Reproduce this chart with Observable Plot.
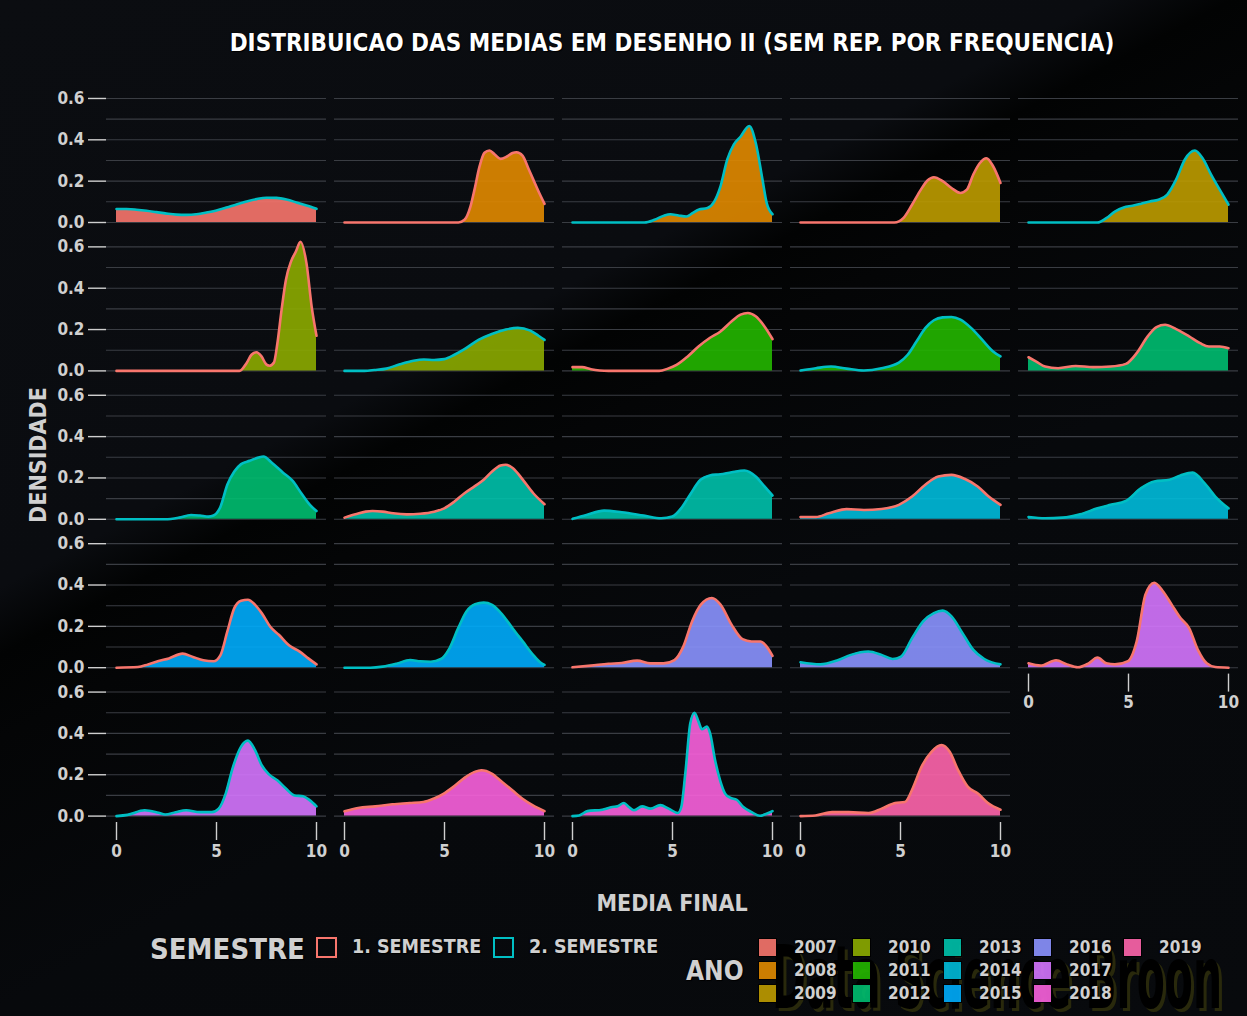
<!DOCTYPE html>
<html><head><meta charset="utf-8">
<script src="https://cdn.jsdelivr.net/npm/d3@7"></script>
<script src="https://cdn.jsdelivr.net/npm/@observablehq/plot@0.6"></script>
<style>
html,body{margin:0;padding:0;background:#07090c;}
#page{position:relative;width:1247px;height:1016px;overflow:hidden;
  background:linear-gradient(152deg,#0b0d11 0%,#0a0c10 35%,#020303 39%,#040506 44%,#07090c 60%,#080a0d 100%);
  font-family:"DejaVu Sans Condensed","DejaVu Sans",sans-serif;font-weight:bold;color:#d0d0d0;}
#title{position:absolute;left:106px;width:1132px;top:28px;text-align:center;color:#fff;font-size:24px;line-height:30px;
  text-shadow:0 0 2px #000,1px 1px 0 #000;}
#chart{position:absolute;left:0;top:60px;}
#ylab{position:absolute;left:38px;top:455px;transform:translate(-50%,-50%) rotate(-90deg);font-size:23px;white-space:nowrap;}
#xlab{position:absolute;left:672px;top:903px;transform:translate(-50%,-50%);font-size:23px;white-space:nowrap;}
#wm{position:absolute;left:0;top:0;}
.lg{position:absolute;white-space:nowrap;text-shadow:0 0 2px #000,1px 1px 0 #000;}
.sw{position:absolute;box-sizing:border-box;}
</style></head>
<body><div id="page">
<svg id="wm" width="1247" height="1016"></svg>
<div id="title">DISTRIBUICAO DAS MEDIAS EM DESENHO II (SEM REP. POR FREQUENCIA)</div>
<div id="chart"></div>
<div id="ylab">DENSIDADE</div>
<div id="xlab">MEDIA FINAL</div>
<div id="legend"></div>
</div>
<script>
// ---------- data ----------
const years = [2007,2008,2009,2010,2011,2012,2013,2014,2015,2016,2017,2018,2019];
const yearColors = ["#F8766D","#E18A00","#BE9C00","#8CAB00","#24B700","#00BE70","#00C1AB","#00BBDA","#00ACFC","#8B93FF","#D575FE","#F962DD","#FF65AC"];
const semesters = ["1. SEMESTRE","2. SEMESTRE"];
const semesterColors = ["#F8766D","#00BFC4"];
const yTicks = [0,0.2,0.4,0.6];
const gridValues = [0,0.1,0.2,0.3,0.4,0.5,0.6];
const xTicks = [0,5,10];

const panelYear     = [2007,2008,2008,2009,2009,2010,2010,2011,2011,2012,2012,2013,2013,2014,2014,2015,2015,2016,2016,2017,2017,2018,2018,2019];
const panelSemester = [2,1,2,1,2,1,2,1,2,1,2,1,2,1,2,1,2,1,2,1,2,1,2,1];

// density curves [media final, densidade]
const d2007s2 = [[0,0.065],[0.5,0.065],[1,0.062],[1.5,0.057],[2,0.05],[2.5,0.043],[3,0.038],[3.5,0.037],[4,0.040],[4.5,0.048],[5,0.058],[5.5,0.072],[6,0.087],[6.5,0.101],[7,0.113],[7.5,0.12],[8,0.119],[8.5,0.111],[9,0.097],[9.5,0.082],[10,0.066]];
const d2008s1 = [[0,0],[5.7,0],[6.0,0.013],[6.3,0.078],[6.5,0.159],[6.75,0.27],[7.0,0.337],[7.25,0.348],[7.5,0.33],[7.8,0.308],[8.1,0.318],[8.4,0.336],[8.6,0.34],[8.9,0.324],[9.2,0.26],[9.45,0.205],[9.75,0.14],[10,0.09]];
const d2008s2 = [[0,0],[3.6,0],[4.1,0.013],[4.55,0.032],[4.9,0.04],[5.3,0.034],[5.7,0.029],[6.0,0.045],[6.3,0.062],[6.75,0.07],[7.08,0.10],[7.4,0.175],[7.74,0.305],[8.07,0.378],[8.4,0.415],[8.84,0.467],[9.16,0.386],[9.5,0.207],[9.71,0.094],[10,0.04]];
const d2009s1 = [[0,0],[4.7,0],[5.14,0.021],[5.58,0.086],[6.02,0.159],[6.35,0.203],[6.67,0.219],[7.11,0.2],[7.55,0.167],[7.99,0.143],[8.32,0.159],[8.64,0.232],[8.97,0.288],[9.3,0.311],[9.63,0.272],[10,0.191]];
const d2009s2 = [[0,0],[3.45,0],[3.89,0.021],[4.32,0.053],[4.76,0.073],[5.2,0.081],[5.63,0.091],[6.07,0.102],[6.5,0.11],[6.94,0.135],[7.38,0.207],[7.82,0.305],[8.32,0.348],[8.69,0.313],[9.13,0.232],[9.56,0.159],[10,0.086]];
const d2010s1 = [[0,0],[6.15,0],[6.5,0.037],[6.75,0.078],[7.0,0.09],[7.25,0.07],[7.5,0.03],[7.65,0.025],[7.87,0.04],[8.04,0.13],[8.26,0.3],[8.47,0.44],[8.73,0.53],[8.98,0.58],[9.2,0.625],[9.5,0.52],[9.76,0.31],[10,0.17]];
const d2010s2 = [[0,0],[1.0,0],[1.5,0.004],[2.1,0.011],[2.77,0.032],[3.45,0.049],[3.97,0.055],[4.48,0.053],[4.99,0.057],[5.5,0.078],[6.0,0.105],[6.7,0.15],[7.4,0.18],[8.07,0.2],[8.67,0.208],[9.26,0.196],[9.7,0.17],[10,0.15]];
const d2011s1 = [[0,0.018],[0.48,0.018],[0.92,0.008],[1.36,0.002],[1.8,0],[4.33,0],[4.77,0.011],[5.2,0.029],[5.76,0.07],[6.3,0.118],[6.86,0.159],[7.4,0.191],[7.96,0.24],[8.4,0.272],[8.77,0.28],[9.16,0.264],[9.6,0.215],[10,0.154]];
const d2011s2 = [[0,0.002],[0.77,0.013],[1.53,0.021],[2.3,0.011],[3.17,0.002],[4.05,0.013],[4.92,0.04],[5.36,0.078],[5.8,0.142],[6.24,0.207],[6.67,0.245],[7.11,0.259],[7.55,0.261],[8.0,0.248],[8.54,0.207],[9.08,0.151],[9.63,0.094],[10,0.07]];
const d2012s1 = [[0,0.066],[0.39,0.045],[0.83,0.021],[1.48,0.013],[2.36,0.024],[3.23,0.018],[4.1,0.021],[4.87,0.034],[5.41,0.086],[5.96,0.167],[6.4,0.212],[6.83,0.223],[7.38,0.202],[8.03,0.167],[8.58,0.134],[9.02,0.118],[9.56,0.118],[10,0.11]];
const d2012s2 = [[0,0],[2.44,0],[3.13,0.008],[3.73,0.021],[4.17,0.018],[4.6,0.013],[4.85,0.018],[5.2,0.061],[5.54,0.167],[5.89,0.231],[6.23,0.267],[6.66,0.283],[7.1,0.299],[7.35,0.304],[7.78,0.272],[8.3,0.228],[8.81,0.186],[9.24,0.126],[9.67,0.07],[10,0.04]];
const d2013s1 = [[0,0.008],[0.55,0.024],[1.06,0.037],[1.4,0.04],[1.91,0.037],[2.43,0.029],[3.11,0.024],[3.79,0.027],[4.48,0.037],[4.99,0.053],[5.5,0.086],[6.0,0.126],[6.5,0.159],[6.96,0.191],[7.38,0.231],[7.8,0.26],[8.07,0.264],[8.41,0.248],[8.92,0.191],[9.44,0.126],[10,0.073]];
const d2013s2 = [[0,0.002],[0.7,0.021],[1.58,0.042],[2.46,0.034],[3.56,0.018],[4.44,0.005],[4.99,0.013],[5.43,0.053],[5.87,0.118],[6.4,0.191],[6.86,0.212],[7.4,0.218],[7.96,0.228],[8.6,0.236],[9.16,0.207],[9.6,0.159],[10,0.115]];
const d2014s1 = [[0,0.011],[0.77,0.011],[1.42,0.029],[2.3,0.049],[3.17,0.045],[4.05,0.05],[4.92,0.07],[5.58,0.11],[6.24,0.167],[6.89,0.207],[7.55,0.215],[8.2,0.196],[8.86,0.159],[9.41,0.11],[10,0.07]];
const d2014s2 = [[0,0.011],[0.83,0.005],[1.7,0.008],[2.58,0.024],[3.45,0.053],[4.1,0.07],[4.87,0.089],[5.63,0.151],[6.29,0.183],[7.05,0.191],[7.6,0.212],[8.21,0.226],[8.8,0.175],[9.34,0.11],[10,0.053]];
const d2015s1 = [[0,0],[1.07,0.003],[1.58,0.016],[2.1,0.032],[2.62,0.045],[3.3,0.068],[3.82,0.052],[4.34,0.036],[4.85,0.031],[5.2,0.061],[5.54,0.174],[5.89,0.288],[6.23,0.324],[6.57,0.329],[6.92,0.305],[7.26,0.264],[7.69,0.198],[8.13,0.158],[8.64,0.107],[9.16,0.078],[9.59,0.045],[10,0.016]];
const d2015s2 = [[0,0],[1.3,0],[1.91,0.005],[2.6,0.019],[3.28,0.037],[3.79,0.031],[4.31,0.029],[4.82,0.042],[5.25,0.094],[5.68,0.19],[6.1,0.272],[6.53,0.307],[6.96,0.315],[7.38,0.304],[7.9,0.256],[8.41,0.19],[8.92,0.126],[9.44,0.061],[9.78,0.026],[10,0.013]];
const d2016s1 = [[0,0.002],[0.92,0.01],[1.8,0.019],[2.46,0.023],[3.23,0.034],[3.89,0.021],[4.55,0.021],[5.1,0.037],[5.54,0.102],[5.98,0.224],[6.42,0.305],[6.97,0.337],[7.4,0.305],[7.96,0.207],[8.5,0.138],[8.95,0.127],[9.4,0.127],[9.71,0.102],[10,0.057]];
const d2016s2 = [[0,0.026],[0.98,0.016],[1.86,0.036],[2.52,0.062],[3.39,0.078],[4.05,0.062],[4.6,0.042],[5.03,0.054],[5.58,0.143],[6.13,0.224],[6.67,0.264],[7.11,0.276],[7.55,0.248],[8.1,0.167],[8.64,0.086],[9.19,0.042],[10,0.016]];
const d2017s1 = [[0,0.021],[0.61,0.01],[1.38,0.036],[1.92,0.016],[2.47,0.002],[3.01,0.021],[3.45,0.049],[3.89,0.021],[4.32,0.016],[4.98,0.032],[5.41,0.127],[5.85,0.354],[6.29,0.411],[6.72,0.37],[7.16,0.305],[7.6,0.24],[8.03,0.192],[8.47,0.086],[8.91,0.021],[9.34,0.003],[10,0]];
const d2017s2 = [[0,0],[0.55,0.006],[1.41,0.028],[2.1,0.016],[2.44,0.008],[2.96,0.019],[3.48,0.028],[4.17,0.019],[4.77,0.019],[5.11,0.036],[5.46,0.109],[5.8,0.23],[6.23,0.336],[6.57,0.365],[6.92,0.32],[7.26,0.246],[7.61,0.203],[8.04,0.173],[8.47,0.133],[8.9,0.1],[9.33,0.096],[9.67,0.076],[10,0.047]];
const d2018s1 = [[0,0.023],[0.68,0.039],[1.54,0.047],[2.4,0.057],[3.25,0.063],[3.94,0.068],[4.45,0.084],[4.97,0.109],[5.48,0.144],[6.0,0.185],[6.51,0.214],[6.85,0.222],[7.36,0.206],[7.88,0.165],[8.39,0.125],[8.9,0.084],[9.42,0.052],[10,0.024]];
const d2018s2 = [[0,0],[0.33,0.003],[0.75,0.024],[1.49,0.031],[1.99,0.044],[2.24,0.047],[2.57,0.063],[2.82,0.044],[3.07,0.028],[3.48,0.047],[3.9,0.036],[4.39,0.053],[4.81,0.036],[5.27,0.015],[5.44,0.044],[5.64,0.206],[5.89,0.449],[6.1,0.5],[6.3,0.457],[6.47,0.42],[6.72,0.433],[6.88,0.4],[7.13,0.27],[7.38,0.173],[7.63,0.109],[7.88,0.089],[8.21,0.079],[8.54,0.044],[8.96,0.019],[9.37,0.002],[9.7,0.011],[10,0.024]];
const d2019s1 = [[0,0],[0.75,0.003],[1.58,0.019],[2.4,0.019],[3.4,0.015],[4.06,0.036],[4.73,0.063],[5.22,0.068],[5.64,0.141],[6.05,0.238],[6.55,0.311],[7.05,0.344],[7.46,0.311],[7.88,0.222],[8.37,0.141],[8.87,0.109],[9.37,0.063],[10,0.031]];

const panelCurves = [d2007s2,d2008s1,d2008s2,d2009s1,d2009s2,d2010s1,d2010s2,d2011s1,d2011s2,d2012s1,d2012s2,d2013s1,d2013s2,d2014s1,d2014s2,d2015s1,d2015s2,d2016s1,d2016s2,d2017s1,d2017s2,d2018s1,d2018s2,d2019s1];

// ---------- tables ----------
const NCOL = 5;
const pts = [];
panelCurves.forEach((curve, i) => {
  const col = i % NCOL, row = Math.floor(i / NCOL);
  const fill = yearColors[years.indexOf(panelYear[i])];
  const stroke = semesterColors[panelSemester[i] - 1];
  curve.forEach(([x, d]) => pts.push({panel: i, col, row, x, d, fill, stroke}));
});
const grid = [];
panelCurves.forEach((_, i) => gridValues.forEach(v => grid.push({col: i % NCOL, row: Math.floor(i / NCOL), y: v})));

const chart = Plot.plot({
  width: 1247, height: 807,
  marginLeft: 106, marginRight: 9, marginTop: 26.4, marginBottom: 45,
  style: {background: "transparent", color: "#d0d0d0", fontFamily: "'DejaVu Sans Condensed','DejaVu Sans',sans-serif", fontSize: "17px", fontWeight: "bold"},
  fx: {axis: null, domain: [0,1,2,3,4], paddingInner: 8/228, paddingOuter: 0, round: false},
  fy: {axis: null, domain: [0,1,2,3,4], paddingInner: 6.4/148.4, paddingOuter: 0, round: false},
  x: {domain: [-0.5, 10.5]},
  y: {domain: [-0.031, 0.656]},
  marks: [
    Plot.ruleY(grid, {y: "y", fx: "col", fy: "row", stroke: "#3a3d43", strokeWidth: 1.1}),
    Plot.areaY(pts, {x: "x", y: "d", fx: "col", fy: "row", z: "panel", fill: "fill", fillOpacity: 0.9, curve: "monotone-x"}),
    Plot.lineY(pts, {x: "x", y: "d", fx: "col", fy: "row", z: "panel", stroke: "stroke", strokeWidth: 2.6, curve: "monotone-x"}),
    Plot.axisY({ticks: yTicks, tickFormat: d3.format(".1f"), tickSize: 18, tickPadding: 4, label: null, stroke: "#cfcfcf", strokeWidth: 1.4}),
    Plot.axisX({ticks: xTicks, tickFormat: d3.format("d"), tickSize: 18, tickPadding: 4, label: null, stroke: "#cfcfcf", strokeWidth: 1.4})
  ]
});
document.getElementById("chart").appendChild(chart);

// ---------- watermark ----------
const wm = d3.select("#wm");
[["#29290c", 3, 3], ["#000000", 0, 0]].forEach(([c, dx, dy]) => {
  wm.append("text").attr("x", 772 + dx).attr("y", 1008 + dy)
    .attr("textLength", 450).attr("lengthAdjust", "spacingAndGlyphs")
    .attr("font-family", "'Liberation Sans Narrow','DejaVu Sans Condensed',sans-serif")
    .attr("font-size", 88).attr("fill", c).text("Data Science Broon");
});

// ---------- legends ----------
const lg = document.getElementById("legend");
function add(html, style, cls) { const e = document.createElement("div"); e.className = cls; e.innerHTML = html; Object.assign(e.style, style); lg.appendChild(e); return e; }
add("SEMESTRE", {left: "150px", top: "931px", fontSize: "29px", lineHeight: "36px"}, "lg");
const semX = [316, 493];
semesters.forEach((s, i) => {
  add("", {left: semX[i] + "px", top: "937px", width: "21px", height: "21px", border: "2.5px solid " + semesterColors[i]}, "sw");
  add(s, {left: (semX[i] + 36) + "px", top: "934px", fontSize: "19.5px", lineHeight: "26px"}, "lg");
});
add("ANO", {left: "686px", top: "954px", fontSize: "26px", lineHeight: "34px"}, "lg");
const colX = [759, 853, 944, 1034, 1124];
const rowY = [947, 970, 993];
years.forEach((y, i) => {
  const c = Math.floor(i / 3), r = i % 3;
  add("", {left: colX[c] + "px", top: (rowY[r] - 8.5) + "px", width: "17px", height: "17px", background: yearColors[i], opacity: 0.9, outline: "1.5px solid #000"}, "sw");
  add(String(y), {left: (colX[c] + 35) + "px", top: (rowY[r] - 11) + "px", fontSize: "17px", lineHeight: "22px"}, "lg");
});
</script>
</body></html>
